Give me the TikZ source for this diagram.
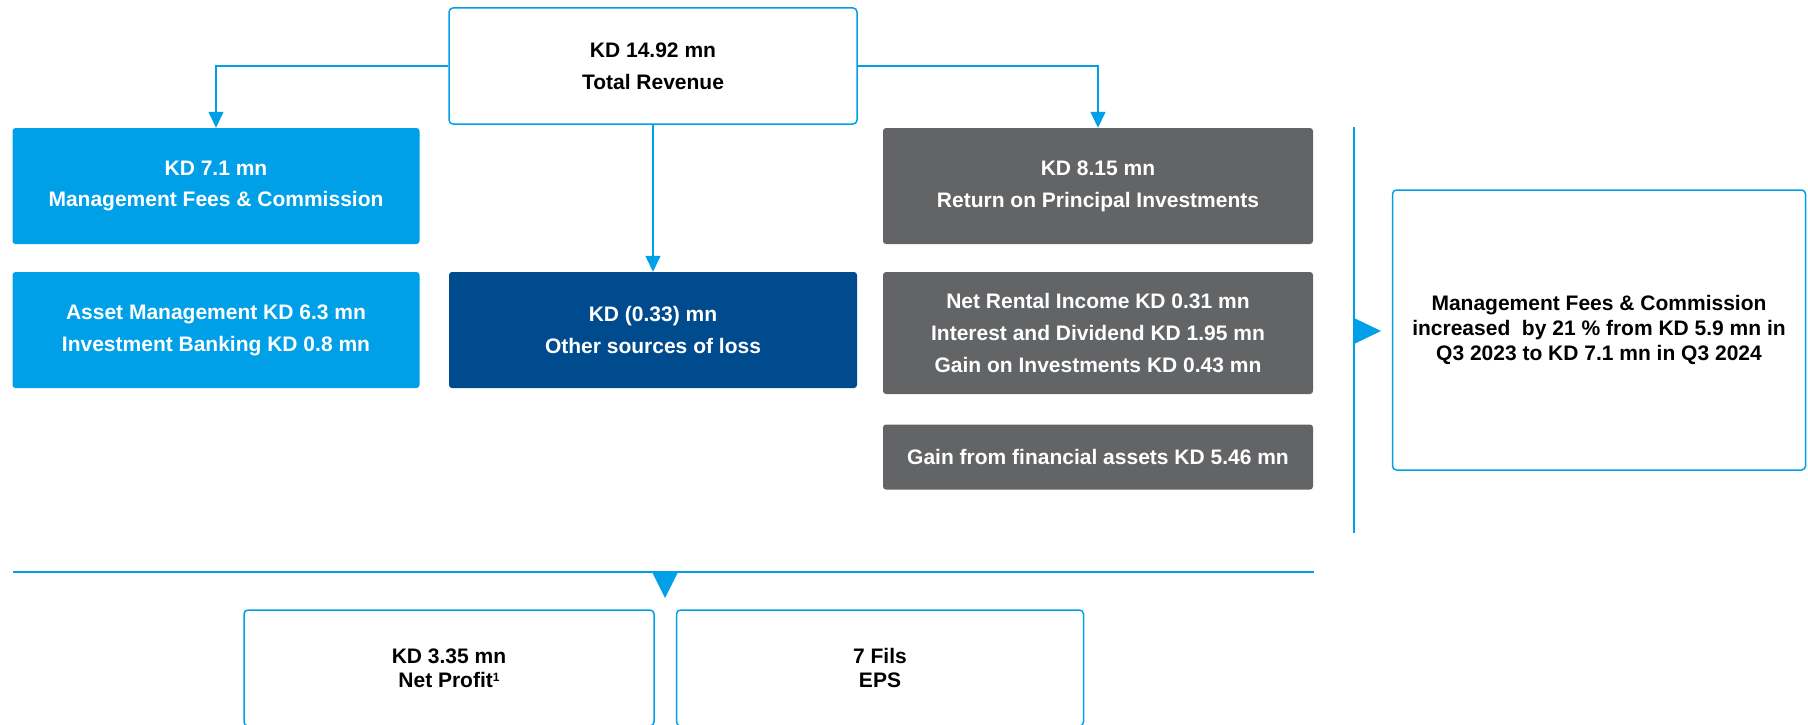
\documentclass[tikz,border=0pt]{standalone}
\usepackage{fontspec}
\setmainfont{Liberation Sans}
\usetikzlibrary{shapes,arrows.meta,positioning}
\definecolor{kblue}{RGB}{0,160,233}
\definecolor{kdark}{RGB}{0,75,141}
\definecolor{kgray}{RGB}{99,100,102}
\tikzstyle{outline} = [rectangle, rounded corners=4pt, minimum width=408pt, minimum height=116pt, align=center, draw=kblue, line width=1.5pt, fill=white, text=black, font=\fontsize{21}{32}\selectfont\bfseries]
\tikzstyle{bluebox} = [rectangle, rounded corners=3pt, minimum width=407pt, minimum height=116pt, align=center, fill=kblue, text=white, font=\fontsize{21}{32}\selectfont\bfseries]
\tikzstyle{darkbox} = [bluebox, fill=kdark, minimum width=408pt]
\tikzstyle{graybox} = [bluebox, fill=kgray, minimum width=430pt]
\tikzstyle{arrow} = [line width=1.4pt, draw=kblue, -{Triangle[width=15pt,length=16pt]}]
\tikzstyle{rule} = [line width=1.5pt, draw=kblue]

\begin{document}
\begin{tikzpicture}[x=1pt, y=-1pt, node distance=144pt]
        \useasboundingbox (0,0) rectangle (1808,725);
        \node (total) [outline] at (653,66) {KD 14.92 mn\\Total Revenue};
        \node (mgmt) [bluebox] at (216,186) {KD 7.1 mn\\Management Fees \& Commission};
        \node (assets) [bluebox, below of=mgmt] {Asset Management KD 6.3 mn\\Investment Banking KD 0.8 mn};
        \node (other) [darkbox, right of=assets, xshift=293pt] {KD (0.33) mn\\Other sources of loss};
        \node (principal) [graybox] at (1098,186) {KD 8.15 mn\\Return on Principal Investments};
        \node (rental) [graybox, below of=principal, yshift=-3pt, minimum height=122pt] {Net Rental Income KD 0.31 mn\\Interest and Dividend KD 1.95 mn\\Gain on Investments KD 0.43 mn};
        \node (financial) [graybox, below of=rental, yshift=20pt, minimum height=65pt] {Gain from financial assets KD 5.46 mn};
        \node (note) [outline, minimum width=413pt, minimum height=280pt, font=\fontsize{21}{25}\selectfont\bfseries] at (1599,330) {Management Fees \& Commission\\increased \ by 21 \% from KD 5.9 mn in\\Q3 2023 to KD 7.1 mn in Q3 2024};
        \node (profit) [outline, minimum width=410pt, font=\fontsize{21}{24}\selectfont\bfseries] at (449,668) {KD 3.35 mn\\Net Profit\raisebox{6pt}{\fontsize{12}{12}\selectfont 1}};
        \node (eps) [outline, minimum width=407pt, font=\fontsize{21}{24}\selectfont\bfseries] at (880,668) {7 Fils\\EPS};
        \coordinate (septop) at (1354,127);
        \coordinate (sepbot) at (1354,533);
        \coordinate (ruleleft) at (13,572);
        \coordinate (ruleright) at (1314,572);
        \draw [arrow] (total.west) -| (mgmt.north);
        \draw [arrow] (total.east) -| (principal.north);
        \draw [arrow] (total.south) -- (other.north);
        \draw [rule, line width=1.2pt] (septop) -- (sepbot);
        \fill [kblue] (1354,318) -- (1381,331) -- (1354,344) -- cycle;
        \draw [rule] (ruleleft) -- (ruleright);
        \fill [kblue] (652,572) -- (678,572) -- (665,598) -- cycle;
        \end{tikzpicture}
\end{document}
